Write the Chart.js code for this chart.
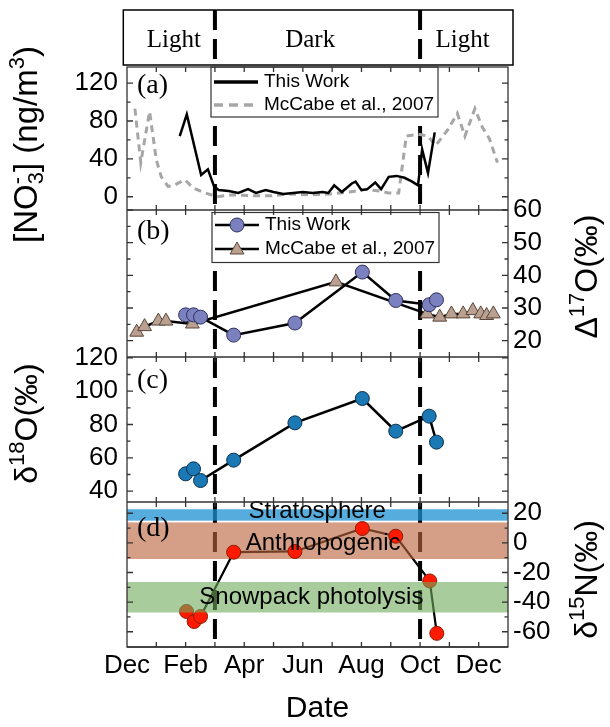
<!DOCTYPE html>
<html>
<head>
<meta charset="utf-8">
<title>Nitrate seasonal record</title>
<script src="https://cdn.jsdelivr.net/npm/chart.js@4.4.1/dist/chart.umd.min.js"></script>
<style>
html, body { margin: 0; padding: 0; background: #fff; }
#wrap { width: 610px; height: 727px; }
</style>
</head>
<body>
<div id="wrap"><canvas id="chart" width="610" height="727"></canvas></div>
<script>
// ======================================
// DATA  (x = months since start of Dec)
// ======================================

const monthTickValues = [0, 2, 4, 6, 8, 10, 12];
const monthLabels = ["Dec", "Feb", "Apr", "Jun", "Aug", "Oct", "Dec"];

const seasonBreaks = [3, 10];
const seasonNames = ["Light", "Dark", "Light"];
const seasonLabelMonths = [1.6, 6.25, 11.45];

// (a) [NO3-]
const nitrateMonths = [1.8, 2.04, 2.53, 2.76, 2.97, 3.13, 3.47, 3.8, 4.13, 4.4, 4.73, 5.0, 5.33, 5.67, 6.0, 6.33, 6.67, 6.87, 7.07, 7.33, 7.67, 7.8, 8.0, 8.2, 8.47, 8.67, 8.93, 9.2, 9.47, 9.73, 9.93, 10.07, 10.27, 10.5];
const nitrateValues = [64, 87, 23, 29, 11, 7, 6, 4, 8, 4, 7, 5, 3, 4, 5, 4, 5, 4, 12, 5, 14, 16, 7, 8, 15, 8, 21, 22, 20, 16, 12, 50, 25, 68];

const mccabeNitrateMonths = [0.27, 0.47, 0.77, 1.0, 1.17, 1.4, 1.6, 1.97, 2.27, 2.67, 3.07, 3.6, 4.27, 4.93, 5.6, 6.27, 6.93, 7.6, 8.13, 8.6, 8.93, 9.27, 9.53, 9.93, 10.27, 10.53, 10.93, 11.27, 11.53, 11.87, 12.13, 12.37, 12.64];
const mccabeNitrateValues = [93, 36, 90, 39, 21, 11, 12, 18, 9, 4, 0, 2, 1, 1, 3, 2, 3, 5, 8, 6, 4, 4, 64, 66, 64, 54, 70, 88, 64, 93, 73, 61, 36];

// (b) Δ17O
const sampleMonths = [2.0, 2.27, 2.51, 3.64, 5.73, 8.03, 9.17, 10.31, 10.56];
const d17Values = [27.9, 27.9, 27.2, 21.7, 25.4, 41.0, 32.3, 31.0, 32.5];

const mccabeD17Months = [0.33, 0.6, 1.07, 1.33, 2.23, 7.13, 10.24, 10.67, 11.07, 11.47, 11.8, 12.07, 12.27, 12.5];
const mccabeD17Values = [22.6, 24.3, 26, 26, 25.1, 38, 28.2, 27.2, 28.2, 28.2, 29.2, 28.2, 27.7, 28.2];

// (c) δ18O
const d18Values = [50.4, 53.4, 46.4, 58.6, 81, 95.6, 76, 85, 69.4];

// (d) δ15N
const d15Months = [2.03, 2.29, 2.51, 3.64, 5.73, 8.03, 9.17, 10.33, 10.57];
const d15Values = [-46.3, -53.1, -49.7, -6.3, -5.8, 9.7, 4.5, -25.7, -61.1];

const bandNames = ["Stratosphere", "Anthropogenic", "Snowpack photolysis"];
const bandLow = [15, -10.9, -47];
const bandHigh = [22.7, 13.8, -26.4];
const bandLabelMonths = [6.49, 6.69, 6.29];
const bandLabelValues = [21, 0, -37];

// axis ticks
const nitrateTicks = [0, 40, 80, 120];
const nitrateMinor = [20, 60, 100];
const d17Ticks = [20, 30, 40, 50, 60];
const d17Minor = [25, 35, 45, 55];
const d18Ticks = [40, 60, 80, 100, 120];
const d18Minor = [50, 70, 90, 110];
const d15Ticks = [-60, -40, -20, 0, 20];
const d15Minor = [-50, -30, -10, 10];

// ======================================
// HELPERS
// ======================================

const sans = "'Liberation Sans', Arial, sans-serif";
const serif = "'Liberation Serif', 'Times New Roman', serif";

function pts(xs, ys){
    return xs.map((x, i) => ({ x: x, y: ys[i] }));
}

function dataAxis(position, order, share, min, max, tickValues, padding){
    return {
        type: "linear",
        position: position,
        stack: "panels",
        stackWeight: share,
        weight: order,
        min: min,
        max: max,
        grid: { display: false, drawTicks: false },
        border: { display: false },
        ticks: {
            font: { family: sans, size: 26 },
            color: "#000",
            padding: padding,
            autoSkip: false
        },
        afterBuildTicks: s => { s.ticks = tickValues.map(v => ({ value: v })); },
        afterFit: s => { s.width = position === "left" ? 127 : 102; }
    };
}

function spacerAxis(position, order, share){
    return {
        type: "linear",
        position: position,
        stack: "panels",
        stackWeight: share,
        weight: order,
        min: 0,
        max: 1,
        grid: { display: false, drawTicks: false },
        border: { display: false },
        ticks: { display: false },
        afterFit: s => { s.width = position === "left" ? 127 : 102; }
    };
}

function marker(ctx, style, x, y, r, fill, edge){
    ctx.save();
    ctx.beginPath();
    if (style === "triangle") {
        let a = 0;
        ctx.moveTo(x + Math.sin(a) * r, y - Math.cos(a) * r);
        a += Math.PI * 2 / 3;
        ctx.lineTo(x + Math.sin(a) * r, y - Math.cos(a) * r);
        a += Math.PI * 2 / 3;
        ctx.lineTo(x + Math.sin(a) * r, y - Math.cos(a) * r);
        ctx.closePath();
    } else {
        ctx.arc(x, y, r, 0, Math.PI * 2);
    }
    ctx.fillStyle = fill;
    ctx.fill();
    ctx.strokeStyle = edge;
    ctx.lineWidth = 1;
    ctx.stroke();
    ctx.restore();
}

// rotated title with sub / superscripts, reads bottom to top
function richTitle(ctx, parts, cx, cy, size){
    ctx.save();
    ctx.translate(cx, cy);
    ctx.rotate(-Math.PI / 2);
    ctx.fillStyle = "#000";
    ctx.textBaseline = "middle";
    ctx.textAlign = "left";
    const small = Math.round(size * 0.68);
    let total = 0;
    let prevW = 0;
    parts.forEach(p => {
        ctx.font = (p[1] ? small : size) + "px " + sans;
        const w = ctx.measureText(p[0]).width;
        if (p[2]) { total += Math.max(0, w - prevW); } else { total += w; }
        prevW = w;
    });
    let x = -total / 2;
    let lastStart = x;
    parts.forEach(p => {
        ctx.font = (p[1] ? small : size) + "px " + sans;
        const w = ctx.measureText(p[0]).width;
        let dy = 0;
        if (p[1] === "sub") dy = size * 0.28;
        if (p[1] === "sup") dy = -size * 0.32;
        const start = p[2] ? lastStart : x;
        ctx.fillText(p[0], start, dy);
        if (p[2]) {
            x = Math.max(x, start + w);
        } else {
            lastStart = start;
            x = start + w;
        }
    });
    ctx.restore();
}

function legendBox(ctx, left, top, w, h){
    ctx.save();
    ctx.fillStyle = "#fff";
    ctx.fillRect(left, top, w, h);
    ctx.strokeStyle = "#333";
    ctx.lineWidth = 1.2;
    ctx.strokeRect(left, top, w, h);
    ctx.restore();
}

function legendText(ctx, text, x, y){
    ctx.save();
    ctx.fillStyle = "#000";
    ctx.font = "19px " + sans;
    ctx.textBaseline = "middle";
    ctx.textAlign = "left";
    ctx.fillText(text, x, y);
    ctx.restore();
}

function hLine(ctx, x0, x1, y, width, color, dash){
    ctx.save();
    ctx.strokeStyle = color;
    ctx.lineWidth = width;
    ctx.setLineDash(dash || []);
    ctx.beginPath();
    ctx.moveTo(x0, y);
    ctx.lineTo(x1, y);
    ctx.stroke();
    ctx.restore();
}

// ======================================
// FIGURE PLUGIN
// ======================================

const figurePlugin = {

    id: "figure",

    beforeDatasetsDraw(chart){
        const { ctx, chartArea } = chart;
        const x = chart.scales.x;
        ctx.save();
        ctx.strokeStyle = "#000";
        ctx.lineWidth = 4;
        ctx.setLineDash([20, 9]);
        seasonBreaks.forEach(m => {
            const px = x.getPixelForValue(m);
            ctx.beginPath();
            ctx.moveTo(px, 10);
            ctx.lineTo(px, chartArea.bottom);
            ctx.stroke();
        });
        ctx.restore();
    },

    afterDatasetDraw(chart, args){
        if (args.index !== 5) return;
        const { ctx, chartArea } = chart;
        const s = chart.scales.d;
        const colors = ["rgba(30,145,210,0.75)", "rgba(185,100,60,0.62)"];
        ctx.save();
        [0, 1].forEach(i => {
            const y1 = s.getPixelForValue(bandHigh[i]);
            const y2 = s.getPixelForValue(bandLow[i]);
            ctx.fillStyle = colors[i];
            ctx.fillRect(chartArea.left, y1, chartArea.right - chartArea.left, y2 - y1);
        });
        ctx.restore();
    },

    afterDatasetsDraw(chart){
        const { ctx, chartArea } = chart;
        const x = chart.scales.x;
        const sd = chart.scales.d;

        // snowpack band sits over the points
        ctx.save();
        const gy1 = sd.getPixelForValue(bandHigh[2]);
        const gy2 = sd.getPixelForValue(bandLow[2]);
        ctx.fillStyle = "rgba(110,170,90,0.6)";
        ctx.fillRect(chartArea.left, gy1, chartArea.right - chartArea.left, gy2 - gy1);

        ctx.fillStyle = "#000";
        ctx.font = "24px " + sans;
        ctx.textAlign = "center";
        ctx.textBaseline = "middle";
        bandNames.forEach((name, i) => {
            ctx.fillText(name, x.getPixelForValue(bandLabelMonths[i]), sd.getPixelForValue(bandLabelValues[i]));
        });
        ctx.restore();

        // legend (a)
        const sa = chart.scales.a;
        const lx = chartArea.left + 84;
        legendBox(ctx, lx, sa.top, 227, 50);
        hLine(ctx, lx + 3, lx + 47, sa.top + 15, 3.5, "#000");
        legendText(ctx, "This Work", lx + 53, sa.top + 15);
        hLine(ctx, lx + 3, lx + 47, sa.top + 38, 3.5, "#a6a6a6", [9, 6]);
        legendText(ctx, "McCabe et al., 2007", lx + 53, sa.top + 38);

        // legend (b)
        const sb = chart.scales.b;
        legendBox(ctx, lx + 1, sb.top + 2.5, 227, 50);
        hLine(ctx, lx + 4, lx + 48, sb.top + 15, 2.5, "#000");
        marker(ctx, "circle", lx + 26, sb.top + 15, 7, "#7b80bf", "#2e3060");
        legendText(ctx, "This Work", lx + 54, sb.top + 15);
        hLine(ctx, lx + 4, lx + 48, sb.top + 39, 2.5, "#000");
        marker(ctx, "triangle", lx + 26, sb.top + 40, 8, "#b9a091", "#5a4638");
        legendText(ctx, "McCabe et al., 2007", lx + 54, sb.top + 39);

        // panel letters
        ctx.save();
        ctx.fillStyle = "#000";
        ctx.font = "28px " + serif;
        ctx.textAlign = "left";
        ctx.textBaseline = "middle";
        [["a", 19], ["b", 22], ["c", 24], ["d", 27]].forEach(p => {
            ctx.fillText("(" + p[0] + ")", chartArea.left + 10, chart.scales[p[0]].top + p[1]);
        });
        ctx.restore();
    },

    afterDraw(chart){
        const { ctx, chartArea } = chart;
        const x = chart.scales.x;
        const panels = [
            { id: "a", major: nitrateTicks, minor: nitrateMinor },
            { id: "b", major: d17Ticks, minor: d17Minor },
            { id: "c", major: d18Ticks, minor: d18Minor },
            { id: "d", major: d15Ticks, minor: d15Minor }
        ];

        ctx.save();
        ctx.strokeStyle = "#333";
        ctx.lineWidth = 1.3;
        ctx.strokeRect(chartArea.left, chartArea.top, chartArea.right - chartArea.left, chartArea.bottom - chartArea.top);

        panels.forEach(p => {
            const s = chart.scales[p.id];
            ctx.beginPath();
            ctx.moveTo(chartArea.left, s.bottom);
            ctx.lineTo(chartArea.right, s.bottom);
            for (let m = 1; m < 13; m++) {
                const px = x.getPixelForValue(m);
                ctx.moveTo(px, s.top);
                ctx.lineTo(px, s.top + 5);
                ctx.moveTo(px, s.bottom);
                ctx.lineTo(px, s.bottom - 5);
            }
            p.major.forEach(v => {
                const py = s.getPixelForValue(v);
                ctx.moveTo(chartArea.left, py);
                ctx.lineTo(chartArea.left + 6, py);
                ctx.moveTo(chartArea.right, py);
                ctx.lineTo(chartArea.right - 6, py);
            });
            p.minor.forEach(v => {
                const py = s.getPixelForValue(v);
                ctx.moveTo(chartArea.left, py);
                ctx.lineTo(chartArea.left + 3.5, py);
                ctx.moveTo(chartArea.right, py);
                ctx.lineTo(chartArea.right - 3.5, py);
            });
            ctx.stroke();
        });
        ctx.restore();

        // header box
        ctx.save();
        ctx.strokeStyle = "#000";
        ctx.lineWidth = 1.5;
        ctx.strokeRect(chartArea.left - 3.7, 10, chartArea.right - chartArea.left + 8.7, 55);
        ctx.fillStyle = "#000";
        ctx.font = "25px " + serif;
        ctx.textAlign = "center";
        ctx.textBaseline = "alphabetic";
        seasonNames.forEach((name, i) => {
            ctx.fillText(name, x.getPixelForValue(seasonLabelMonths[i]), 46.5);
        });
        ctx.restore();

        // axis titles
        const sa = chart.scales.a, sb = chart.scales.b, sc = chart.scales.c, sd = chart.scales.d;
        richTitle(ctx, [["[NO"], ["3", "sub"], ["-", "sup", true], ["] (ng/m"], ["3", "sup"], [")"]], 28, (sa.top + sa.bottom) / 2 + 6, 33);
        richTitle(ctx, [["\u0394"], ["17", "sup"], ["O(\u2030)"]], 588, (sb.top + sb.bottom) / 2 - 7, 32);
        richTitle(ctx, [["\u03b4"], ["18", "sup"], ["O(\u2030)"]], 28, (sc.top + sc.bottom) / 2 - 6, 32);
        richTitle(ctx, [["\u03b4"], ["15", "sup"], ["N(\u2030)"]], 588, (sd.top + sd.bottom) / 2 + 5, 32);
    }

};

// ======================================
// CHART
// ======================================

new Chart(

    document.getElementById("chart"),

    {

        type: "scatter",

        data: {

            datasets: [
                {
                    label: "This Work",
                    data: pts(nitrateMonths, nitrateValues),
                    yAxisID: "a",
                    showLine: true,
                    borderColor: "#000",
                    borderWidth: 2.5,
                    pointRadius: 0,
                    order: 1
                },
                {
                    label: "McCabe et al., 2007",
                    data: pts(mccabeNitrateMonths, mccabeNitrateValues),
                    yAxisID: "a",
                    showLine: true,
                    borderColor: "#a6a6a6",
                    borderWidth: 3,
                    borderDash: [7, 5],
                    pointRadius: 0,
                    order: 2
                },
                {
                    label: "This Work",
                    data: pts(sampleMonths, d17Values),
                    yAxisID: "b",
                    showLine: true,
                    borderColor: "#000",
                    borderWidth: 2.5,
                    pointStyle: "circle",
                    pointRadius: 7,
                    pointBackgroundColor: "#7b80bf",
                    pointBorderColor: "#2e3060",
                    pointBorderWidth: 1,
                    order: 1
                },
                {
                    label: "McCabe et al., 2007",
                    data: pts(mccabeD17Months, mccabeD17Values),
                    yAxisID: "b",
                    showLine: true,
                    borderColor: "#000",
                    borderWidth: 2.5,
                    pointStyle: "triangle",
                    pointRadius: 8,
                    pointBackgroundColor: "#b9a091",
                    pointBorderColor: "#5a4638",
                    pointBorderWidth: 1,
                    order: 2
                },
                {
                    label: "d18O",
                    data: pts(sampleMonths, d18Values),
                    yAxisID: "c",
                    showLine: true,
                    borderColor: "#000",
                    borderWidth: 2.5,
                    pointRadius: 7,
                    pointBackgroundColor: "#1a78b4",
                    pointBorderColor: "#0b2f4a",
                    pointBorderWidth: 1,
                    order: 1
                },
                {
                    label: "d15N line",
                    data: pts(d15Months, d15Values),
                    yAxisID: "d",
                    showLine: true,
                    borderColor: "#000",
                    borderWidth: 2.2,
                    pointRadius: 0,
                    order: 10
                },
                {
                    label: "d15N",
                    data: pts(d15Months, d15Values),
                    yAxisID: "d",
                    showLine: false,
                    pointRadius: 7,
                    pointBackgroundColor: "#ff1a00",
                    pointBorderColor: "#8a1a08",
                    pointBorderWidth: 1,
                    order: 0
                }
            ]

        },

        options: {

            responsive: false,
            animation: false,
            devicePixelRatio: 1,
            layout: { padding: { top: 67, left: 0, right: 0, bottom: 0 } },

            plugins: {
                legend: { display: false },
                tooltip: { enabled: false }
            },

            scales: {

                x: {
                    type: "linear",
                    position: "bottom",
                    min: 0,
                    max: 13,
                    grid: { display: false, drawTicks: false },
                    border: { display: false },
                    ticks: {
                        font: { family: sans, size: 26 },
                        color: "#000",
                        padding: 3,
                        maxRotation: 0,
                        autoSkip: false,
                        callback: v => monthLabels[monthTickValues.indexOf(v)]
                    },
                    afterBuildTicks: s => { s.ticks = monthTickValues.map(v => ({ value: v })); },
                    title: {
                        display: true,
                        text: "Date",
                        font: { family: sans, size: 30 },
                        color: "#000",
                        padding: 0
                    },
                    afterFit: s => { s.height = 80; }
                },

                a: dataAxis("left", 4, 143, -14, 137, nitrateTicks, 9),
                bL: spacerAxis("left", 3, 147),
                c: dataAxis("left", 2, 145, 33.5, 120.5, d18Ticks, 9),
                dL: spacerAxis("left", 1, 145),

                aR: spacerAxis("right", 1, 143),
                b: dataAxis("right", 2, 147, 15, 60, d17Ticks, 5),
                cR: spacerAxis("right", 3, 145),
                d: dataAxis("right", 4, 145, -70.3, 27.6, d15Ticks, 5)

            }

        },

        plugins: [figurePlugin]

    }

);
</script>
</body>
</html>
